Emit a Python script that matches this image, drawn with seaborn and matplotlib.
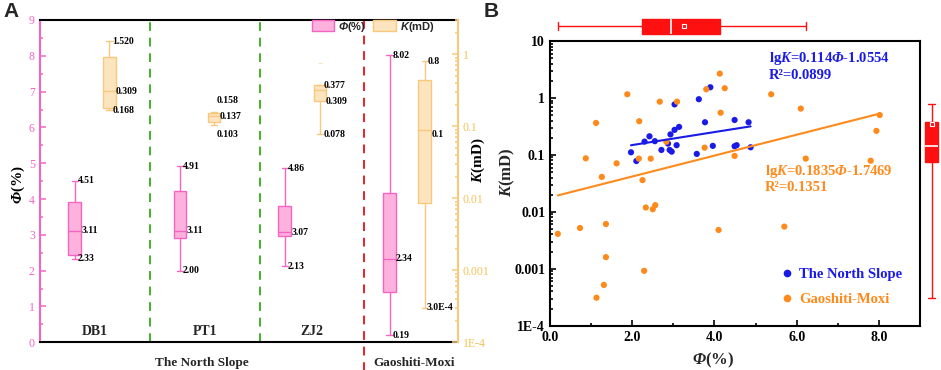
import numpy as np
import pandas as pd
import matplotlib
matplotlib.use("Agg")
import matplotlib.pyplot as plt
import seaborn as sns
from matplotlib.lines import Line2D
from matplotlib.patches import Patch
from matplotlib.ticker import FixedLocator, FixedFormatter, MultipleLocator, LogLocator, NullFormatter

# ---- Panel A: box summaries (min, q1, median, q3, max) per well / area ----
wells = ["DB1", "PT1", "ZJ2"]
areas = ["The North Slope", "Gaoshiti-Moxi"]

phi_min = [2.33, 2.00, 2.13, 0.19]
phi_q1 = [2.44, 2.92, 2.97, 1.40]
phi_med = [3.11, 3.11, 3.07, 2.34]
phi_q3 = [3.93, 4.23, 3.81, 4.18]
phi_max = [4.51, 4.91, 4.86, 8.02]
phi_mean = [3.25, 3.46, 3.32, 3.14]

k_min = [0.168, 0.103, 0.078, 3.0e-4]
k_q1 = [0.178, 0.116, 0.224, 0.0085]
k_med = [0.309, 0.137, 0.32, 0.088]
k_q3 = [0.93, 0.151, 0.377, 0.44]
k_max = [1.52, 0.158, 0.377, 0.8]
k_mean = [0.60, 0.135, 0.30, 0.37]
zj2_k_outlier = [0.77]

phi_top_lbl = ["4.51", "4.91", "4.86", "8.02"]
phi_med_lbl = ["3.11", "3.11", "3.07", "2.34"]
phi_bot_lbl = ["2.33", "2.00", "2.13", "0.19"]
k_top_lbl = ["1.520", "0.158", "0.377", "0.8"]
k_med_lbl = ["0.309", "0.137", "0.309", "0.1"]
k_bot_lbl = ["0.168", "0.103", "0.078", "3.0E-4"]

# ---- Panel B: porosity / permeability points ----
north_phi = [1.97, 2.10, 2.30, 2.42, 2.55, 2.71, 2.87, 2.91, 2.93, 2.96, 3.03, 3.03,
             3.08, 3.14, 3.57, 3.62, 3.77, 3.90, 3.96, 4.49, 4.49, 4.54, 4.83, 4.88]
north_k = [0.111, 0.078, 0.171, 0.212, 0.174, 0.122, 0.158, 0.122, 0.229, 0.114, 0.275, 0.77,
           0.148, 0.31, 0.104, 0.95, 0.374, 1.54, 0.144, 0.41, 0.142, 0.148, 0.374, 0.136]
gm_phi = [0.19, 0.73, 0.87, 1.12, 1.13, 1.26, 1.31, 1.36, 1.36, 1.62, 1.88, 2.16,
          2.17, 2.25, 2.29, 2.33, 2.45, 2.50, 2.56, 2.67, 2.83, 3.09, 3.76, 3.80,
          4.10, 4.13, 4.15, 4.25, 4.49, 5.38, 5.70, 6.10, 6.22, 7.80, 7.94, 8.02]
gm_k = [0.0041, 0.0052, 0.087, 0.364, 0.00031, 0.041, 0.00052, 0.0061, 0.0016, 0.071, 1.16, 0.086,
        0.39, 0.036, 0.00092, 0.0119, 0.086, 0.0111, 0.0131, 0.86, 0.17, 0.86, 0.134, 1.42,
        0.0048, 2.67, 0.55, 1.48, 0.096, 1.16, 0.0055, 0.65, 0.086, 0.079, 0.264, 0.50]

# lgK = slope * phi + intercept
fit_slope = [0.114, 0.1835]
fit_icpt = [-1.0554, -1.7469]
fit_eq = [r"lg$K$=0.114$Φ$-1.0554", r"lg$K$=0.1835$Φ$-1.7469"]
fit_r2 = ["R²=0.0899", "R²=0.1351"]

k_tick_vals = [1e-4, 1e-3, 1e-2, 1e-1, 1, 10]
k_tick_lbls = ["1E-4", "0.001", "0.01", "0.1", "1", "10"]

# colours
PINK = "#F564C3"
PINK_FILL = "#FDB2DE"
GOLD = "#F8C97C"
GOLD_FILL = "#FCE4BE"
GOLD_TXT = "#F5C258"
BLUE = "#1A1AE6"
ORANGE = "#FF8A1C"
RED = "#FF1010"

sns.set_style("ticks")
plt.rcParams["font.family"] = ["Liberation Serif", "DejaVu Sans"]
plt.rcParams["font.weight"] = "bold"
plt.rcParams["axes.labelweight"] = "bold"
plt.rcParams["mathtext.fontset"] = "custom"
plt.rcParams["mathtext.rm"] = "Liberation Serif:italic:bold"
plt.rcParams["mathtext.sf"] = "Liberation Sans:italic:bold"
plt.rcParams["mathtext.default"] = "rm"

W, H = 941, 370
fig = plt.figure(figsize=(W / 100, H / 100), dpi=100)


def box(l, t, r, b):
    return [l / W, 1 - b / H, (r - l) / W, (b - t) / H]


def pt(v):
    return v * 0.72


axA = fig.add_axes(box(39.7, 20, 457.7, 342.3))
axA2 = axA.twinx()
axA2.set_yscale("log")

# layout positions of the boxes (x data units)
phi_pos = [0.318, 1.275, 2.227, 3.18]
k_pos = [0.634, 1.585, 2.55, 3.50]
dividers = [1.0, 2.0, 2.95]

phi_df = pd.DataFrame({
    "pos": np.repeat(phi_pos, 5),
    "phi": np.column_stack([phi_min, phi_q1, phi_med, phi_q3, phi_max]).ravel(),
})
k_df = pd.DataFrame({
    "pos": np.repeat(k_pos, 5),
    "k": np.column_stack([k_min, k_q1, k_med, k_q3, k_max]).ravel(),
})

sns.boxplot(data=phi_df, x="pos", y="phi", native_scale=True, whis=(0, 100), width=0.12,
            color=PINK_FILL, linecolor=PINK, linewidth=1.0, saturation=1,
            showfliers=False, ax=axA)
sns.scatterplot(x=phi_pos, y=phi_mean, marker="s", s=10, color="none", edgecolor=PINK,
                linewidth=0.7, ax=axA)
sns.boxplot(data=k_df, x="pos", y="k", native_scale=True, whis=(0, 100), width=0.12,
            color=GOLD_FILL, linecolor=GOLD, linewidth=1.0, saturation=1,
            showfliers=False, ax=axA2)
sns.scatterplot(x=k_pos, y=k_mean, marker="s", s=10, color="none", edgecolor=GOLD,
                linewidth=0.7, ax=axA2)
sns.scatterplot(x=[k_pos[2]], y=zj2_k_outlier, marker="_", s=12, color=GOLD, alpha=0.5,
                linewidth=0.8, ax=axA2)

for d in dividers[:2]:
    axA.axvline(d, color="#44B02A", ls=(0, (4.5, 3.5)), lw=1.4)
axA.axvline(dividers[2], ymin=-0.09, ymax=1, color="#E8202A", ls=(0, (4.5, 3.5)), lw=1.4,
            clip_on=False)

ann = dict(fontsize=7, ha="left", va="center", textcoords="offset points", color="black")
for i in range(4):
    axA.annotate(phi_top_lbl[i], (phi_pos[i], phi_max[i]), xytext=(pt(3), 0), **ann)
    axA.annotate(phi_med_lbl[i], (phi_pos[i], phi_med[i]), xytext=(pt(6.5), 0), **ann)
    axA.annotate(phi_bot_lbl[i], (phi_pos[i], phi_min[i]), xytext=(pt(3), 0), **ann)
k_off = [[(3, 0), (6, 0), (3, 0)], [(3, 12), (6, 0), (3, -9)],
         [(3, -1), (5.5, -12), (3, 0)], [(2.5, 0), (6.5, -4), (2, 0)]]
for i in range(4):
    for lbl, val, off in zip([k_top_lbl[i], k_med_lbl[i], k_bot_lbl[i]],
                             [k_max[i], k_med[i], k_min[i]], k_off[i]):
        axA2.annotate(lbl, (k_pos[i], val), xytext=(pt(off[0]), pt(off[1])), **ann)

axA.set_xlim(0, 3.8)
axA.set_ylim(0, 9)
axA2.set_ylim(1e-4, 3)
axA.set_xticks([])
axA2.set_xticks([])
axA.set_xlabel("")
axA2.set_xlabel("")

axA.yaxis.set_major_locator(MultipleLocator(1))
axA.yaxis.set_minor_locator(MultipleLocator(0.5))
axA.tick_params(axis="y", which="both", direction="in", colors=PINK, labelsize=8.5, width=1.1)
axA.tick_params(axis="y", which="major", length=4)
axA.tick_params(axis="y", which="minor", length=2)
for t in axA.get_yticklabels():
    t.set_fontweight("normal")

axA2.yaxis.set_major_locator(FixedLocator(k_tick_vals[:-1]))
axA2.yaxis.set_major_formatter(FixedFormatter(k_tick_lbls[:-1]))
axA2.yaxis.set_minor_locator(LogLocator(base=10, subs=np.arange(2, 10)))
axA2.yaxis.set_minor_formatter(NullFormatter())
axA2.tick_params(axis="y", which="both", direction="in", colors=GOLD, labelsize=8.5, width=1.1)
axA2.tick_params(axis="y", which="major", length=4)
axA2.tick_params(axis="y", which="minor", length=2)
for t in axA2.get_yticklabels():
    t.set_fontweight("normal")
    t.set_color(GOLD_TXT)

for s in ["top", "bottom"]:
    axA.spines[s].set_color("black")
    axA.spines[s].set_linewidth(1.5)
axA.spines["left"].set_color(PINK)
axA.spines["left"].set_linewidth(1.5)
axA.spines["right"].set_visible(False)
for s in ["top", "bottom", "left"]:
    axA2.spines[s].set_visible(False)
axA2.spines["right"].set_visible(True)
axA2.spines["right"].set_color(GOLD)
axA2.spines["right"].set_linewidth(1.5)

axA.set_ylabel(r"$Φ$(%)", fontsize=11, color="black", fontweight="bold")
axA.yaxis.set_label_coords(-0.03, 0.49)
axA2.set_ylabel(r"$K$(mD)", fontsize=11, color="black", fontweight="bold")
axA2.yaxis.set_label_coords(1.029, 0.566)

well_mid = [0.5, 1.5, 2.475]
for name, xm in zip(wells, well_mid):
    axA.text(xm, 0.012, name, transform=axA.get_xaxis_transform(), ha="center",
             va="bottom", fontsize=10)
axA.text(1.475, -0.045, areas[0], transform=axA.get_xaxis_transform(), ha="center",
         va="top", fontsize=9.5)
axA.text(3.4, -0.045, areas[1], transform=axA.get_xaxis_transform(), ha="center",
         va="top", fontsize=9.5)

legA = axA2.legend(
    handles=[Patch(facecolor=PINK_FILL, edgecolor=PINK, lw=1),
             Patch(facecolor=GOLD_FILL, edgecolor=GOLD, lw=1)],
    labels=[r"$\mathsf{Φ}$(%)", r"$\mathsf{K}$(mD)"],
    loc="upper left", bbox_to_anchor=(0.64, 1.015), ncol=2, frameon=False,
    handlelength=2.0, handleheight=1.1, handletextpad=0.35, columnspacing=0.7,
    borderaxespad=0, prop={"family": "Liberation Sans", "weight": "bold", "size": 8})

# ---- Panel B ----
axB = fig.add_axes(box(550, 41, 920, 325.7))
axT = fig.add_axes(box(550, 16, 920, 36))
axR = fig.add_axes(box(922, 41, 941, 325.7))

scat = pd.DataFrame({
    "phi": north_phi + gm_phi,
    "k": north_k + gm_k,
    "area": [areas[0]] * len(north_phi) + [areas[1]] * len(gm_phi),
})
sns.scatterplot(data=scat, x="phi", y="k", hue="area", palette=[BLUE, ORANGE], s=20,
                edgecolor="none", legend=False, ax=axB)
for phis, a, b, c in zip([north_phi, gm_phi], fit_slope, fit_icpt, [BLUE, ORANGE]):
    xs = np.array([min(phis), max(phis)])
    sns.lineplot(x=xs, y=10 ** (a * xs + b), color=c, lw=1.5, ax=axB)
axB.set_yscale("log")
axB.set_xlim(0, 9)
axB.set_ylim(1e-4, 10)

axB.yaxis.set_major_locator(FixedLocator(k_tick_vals))
axB.yaxis.set_major_formatter(FixedFormatter(k_tick_lbls))
axB.yaxis.set_minor_locator(LogLocator(base=10, subs=np.arange(2, 10)))
axB.yaxis.set_minor_formatter(NullFormatter())
axB.xaxis.set_major_locator(FixedLocator([0, 2, 4, 6, 8]))
axB.xaxis.set_major_formatter(FixedFormatter(["0.0", "2.0", "4.0", "6.0", "8.0"]))
axB.xaxis.set_minor_locator(FixedLocator([1, 3, 5, 7]))
axB.tick_params(which="both", direction="in", width=1.2, labelsize=10, colors="black")
axB.tick_params(which="major", length=4)
axB.tick_params(which="minor", length=2.5)
for s in axB.spines.values():
    s.set_linewidth(1.5)
    s.set_color("black")
axB.set_xlabel(r"$Φ$(%)", fontsize=12, fontweight="bold")
axB.xaxis.set_label_coords(0.44, -0.088)
axB.set_ylabel(r"$K$(mD)", fontsize=12, fontweight="bold")
axB.yaxis.set_label_coords(-0.088, 0.54)

eq_pos = [(0.592, 0.940, 0.880), (0.581, 0.541, 0.485)]
for (xe, y1, y2), eq, r2, c in zip(eq_pos, fit_eq, fit_r2, [BLUE, ORANGE]):
    axB.text(xe, y1, eq, transform=axB.transAxes, color=c, fontsize=10.5, va="center")
    axB.text(xe, y2, r2, transform=axB.transAxes, color=c, fontsize=10.5, va="center")

legB = axB.legend(
    handles=[Line2D([], [], marker="o", ls="", color=BLUE, ms=4.5),
             Line2D([], [], marker="o", ls="", color=ORANGE, ms=4.5)],
    labels=areas, loc="lower left", bbox_to_anchor=(0.608, 0.05), frameon=False,
    handlelength=0.8, handletextpad=0.45, labelspacing=0.75, borderaxespad=0,
    prop={"size": 10.5, "weight": "bold"})
for t, c in zip(legB.get_texts(), [BLUE, ORANGE]):
    t.set_color(c)

mean_props = dict(marker="s", markerfacecolor="none", markeredgecolor="white",
                  markersize=3.5, markeredgewidth=0.8)
sns.boxplot(x=north_phi + gm_phi, ax=axT, color=RED, linecolor=RED, width=0.75,
            linewidth=1.0, saturation=1, showfliers=False, showmeans=True,
            meanprops=mean_props, medianprops=dict(color="white", linewidth=1.2))
axT.set_xlim(0, 9)
axT.set_ylim(0.5, -0.5)
axT.axis("off")

sns.boxplot(y=north_k + gm_k, ax=axR, color=RED, linecolor=RED, width=0.68,
            linewidth=1.0, saturation=1, showfliers=False, showmeans=True,
            meanprops=mean_props, medianprops=dict(color="white", linewidth=1.2))
axR.set_yscale("log")
axR.set_ylim(1e-4, 10)
axR.set_xlim(-0.5, 0.5)
axR.axis("off")

fig.text(3 / W, 1 - 2 / H, "A", fontsize=15, weight="bold", family="Liberation Sans",
         va="top", ha="left")
fig.text(484 / W, 1 - 2 / H, "B", fontsize=15, weight="bold", family="Liberation Sans",
         va="top", ha="left")

fig.savefig("out.png", dpi=100)
